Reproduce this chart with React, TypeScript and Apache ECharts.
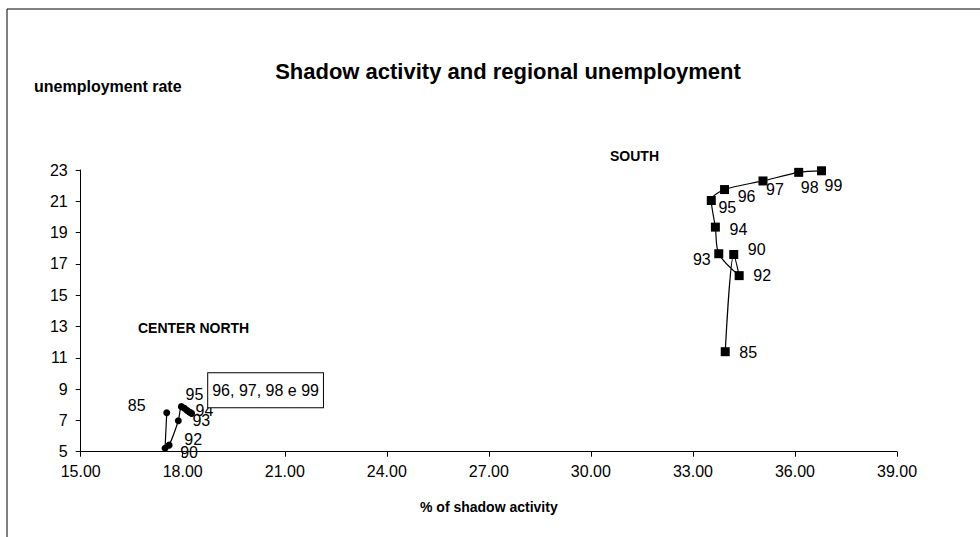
import React, { useEffect, useRef } from "react";
import * as echarts from "echarts";

const years = ["85", "90", "92", "93", "94", "95", "96", "97", "98", "99"];
const southShadow = [33.95, 34.2, 34.36, 33.76, 33.66, 33.54, 33.93, 35.06, 36.11, 36.78];
const southUnemp = [11.39, 17.6, 16.25, 17.65, 19.35, 21.05, 21.75, 22.3, 22.85, 22.95];
const northShadow = [17.53, 17.48, 17.6, 17.87, 17.96, 18.05, 18.12, 18.18, 18.22, 18.26];
const northUnemp = [7.49, 5.22, 5.42, 6.98, 7.88, 7.78, 7.65, 7.55, 7.5, 7.45];
const yTicks = [5, 7, 9, 11, 13, 15, 17, 19, 21, 23];
const xMin = 15;
const xMax = 39;
const xStep = 3;

const title = "Shadow activity and regional unemployment";
const yTitle = "unemployment rate";
const xTitle = "% of shadow activity";
const southName = "SOUTH";
const northName = "CENTER NORTH";
const northBoxText = "96, 97, 98 e 99";

const southOffsets: number[][] = [
  [23, 1], [23, -5], [23, 0], [-17, 6], [23, 2], [16, 7], [22, 7], [12, 9], [11, 15], [12, 15],
];
const northOffsets: (number[] | null)[] = [
  [-30, -7], [24, 4], [24, -6], [23, 0], [23, 4], [10, -14], null, null, null, [74, -23],
];

const FONT = "'Liberation Sans', Arial, sans-serif";

export default function App() {
  const ref = useRef<HTMLDivElement>(null);
  useEffect(() => {
    if (!ref.current) return;
    const chart = echarts.init(ref.current, undefined, { renderer: "svg" });
    const labelBase = {
      show: true,
      position: "inside" as const,
      color: "#000",
      fontSize: 16,
      fontFamily: FONT,
    };
    const southData = years.map((y, i) => ({
      value: [southShadow[i], southUnemp[i]],
      label: { ...labelBase, formatter: y, offset: southOffsets[i] },
    }));
    const northData = years.map((y, i) => {
      const off = northOffsets[i];
      if (!off) return { value: [northShadow[i], northUnemp[i]], label: { show: false } };
      if (i === years.length - 1) {
        return {
          value: [northShadow[i], northUnemp[i]],
          label: {
            ...labelBase,
            formatter: northBoxText,
            offset: off,
            borderColor: "#000",
            borderWidth: 1,
            padding: [9, 4],
            backgroundColor: "#fff",
          },
        };
      }
      return {
        value: [northShadow[i], northUnemp[i]],
        label: { ...labelBase, formatter: y, offset: off },
      };
    });
    chart.setOption({
      animation: false,
      backgroundColor: "#fff",
      textStyle: { fontFamily: FONT },
      grid: { left: 80.7, right: 83, top: 170, bottom: 85.3, containLabel: false },
      xAxis: {
        type: "value",
        min: xMin,
        max: xMax,
        interval: xStep,
        name: xTitle,
        nameLocation: "middle",
        nameGap: 48,
        nameTextStyle: { fontSize: 14, fontWeight: "bold", color: "#000", fontFamily: FONT },
        axisLine: { show: true, lineStyle: { color: "#000", width: 1 } },
        axisTick: { show: true, inside: false, length: 5, lineStyle: { color: "#000" } },
        axisLabel: {
          color: "#000",
          fontSize: 16,
          fontFamily: FONT,
          margin: 12,
          formatter: (v: number) => v.toFixed(2),
        },
        splitLine: { show: false },
      },
      yAxis: {
        type: "value",
        min: yTicks[0],
        max: yTicks[yTicks.length - 1],
        axisLine: { show: true, lineStyle: { color: "#000", width: 1 } },
        axisTick: { show: true, inside: false, length: 5, customValues: yTicks, lineStyle: { color: "#000" } },
        axisLabel: { color: "#000", fontSize: 16, fontFamily: FONT, margin: 13, customValues: yTicks },
        splitLine: { show: false },
      },
      graphic: [
        {
          type: "rect",
          silent: true,
          z: -10,
          shape: { x: 7, y: 9, width: 1000, height: 600 },
          style: { fill: "none", stroke: "#000", lineWidth: 1 },
        },
        {
          type: "text",
          x: 508,
          y: 71,
          style: {
            text: title,
            fontSize: 22,
            fontWeight: "bold",
            fontFamily: FONT,
            fill: "#000",
            textAlign: "center",
            textVerticalAlign: "middle",
          },
        },
        {
          type: "text",
          x: 34,
          y: 86,
          style: {
            text: yTitle,
            fontSize: 16,
            fontWeight: "bold",
            fontFamily: FONT,
            fill: "#000",
            textVerticalAlign: "middle",
          },
        },
        {
          type: "text",
          x: 610,
          y: 156,
          style: {
            text: southName,
            fontSize: 14,
            fontWeight: "bold",
            fontFamily: FONT,
            fill: "#000",
            textVerticalAlign: "middle",
          },
        },
        {
          type: "text",
          x: 138,
          y: 328,
          style: {
            text: northName,
            fontSize: 14,
            fontWeight: "bold",
            fontFamily: FONT,
            fill: "#000",
            textVerticalAlign: "middle",
          },
        },
      ],
      series: [
        {
          type: "line",
          name: southName,
          data: southData,
          smooth: 0.3,
          symbol: "rect",
          symbolSize: 9,
          itemStyle: { color: "#000" },
          lineStyle: { color: "#000", width: 1.2 },
          z: 3,
        },
        {
          type: "line",
          name: northName,
          data: northData,
          smooth: 0.3,
          symbol: "circle",
          symbolSize: 7,
          itemStyle: { color: "#000" },
          lineStyle: { color: "#000", width: 1.2 },
          z: 3,
        },
      ],
    });
    return () => chart.dispose();
  }, []);
  return (
    <div
      ref={ref}
      style={{ position: "fixed", left: 0, top: 0, width: 980, height: 537, background: "#fff" }}
    />
  );
}
